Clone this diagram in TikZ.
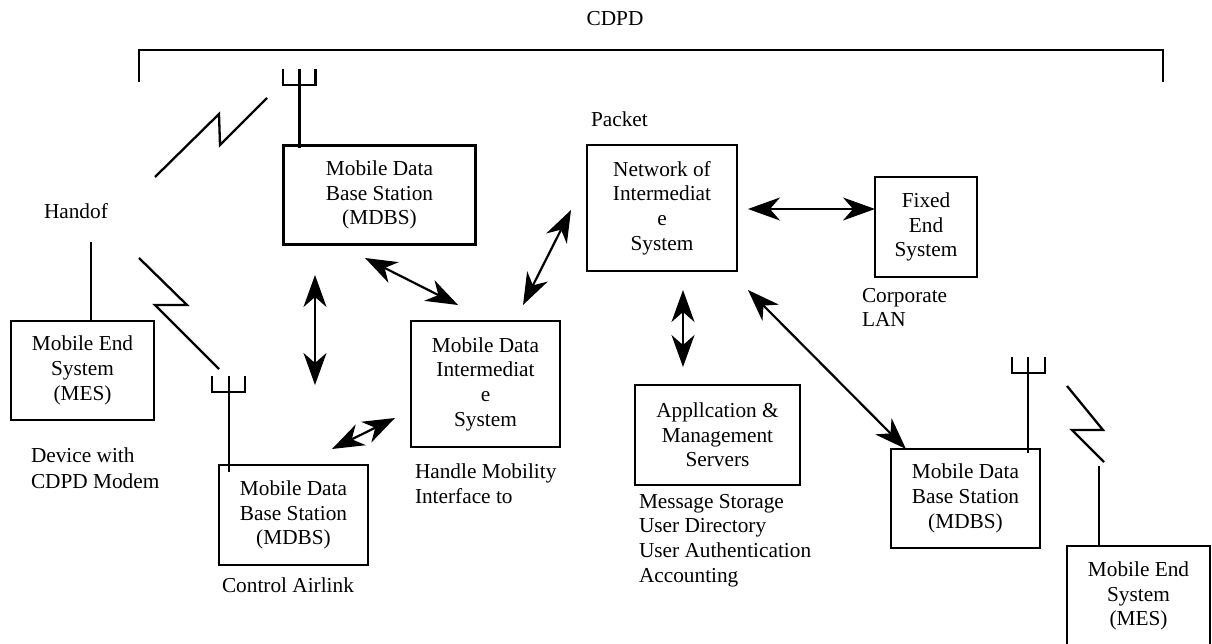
\documentclass[tikz,border=0pt]{standalone}
\usepackage{fontspec}
\setmainfont{Liberation Serif}
\usetikzlibrary{arrows.meta}
\tikzset{
  x=1pt,y=-1pt,
  every node/.style={inner sep=0pt,outer sep=0pt},
  box/.style={draw=black,line width=2.3pt,align=center,font=\fontsize{21.3}{24.7}\selectfont},
  lab/.style={anchor=west,align=left,font=\fontsize{21.3}{24.7}\selectfont},
  wire/.style={draw=black,line width=2.3pt},
  dbl/.style={draw=black,line width=2.2pt,{Stealth[length=32pt,width=23pt,inset=10pt]}-{Stealth[length=32pt,width=23pt,inset=10pt]}},
}
\begin{document}
\begin{tikzpicture}
\useasboundingbox (0,0) rectangle (1212,644);
% boxes
\node[box,minimum width=192pt,minimum height=99pt] (bs1) at (379.5,195) {Mobile Data\\Base Station\\(MDBS)};
\node[box,minimum width=143pt,minimum height=99pt] (mes1) at (82.5,370.5) {Mobile End\\System\\(MES)};
\node[box,minimum width=149pt,minimum height=100pt] (bs2) at (293.5,515) {Mobile Data\\Base Station\\(MDBS)};
\node[box,minimum width=149pt,minimum height=126pt] (mdis) at (485.5,384) {Mobile Data\\Intermediat\hspace*{8pt}\\e\\System};
\node[box,minimum width=150pt,minimum height=126pt] (net) at (662,208) {Network of\\Intermediat\hspace*{10pt}\\e\\System};
\node[box,minimum width=102pt,minimum height=100pt] (fes) at (926,227) {Fixed\\End\\System};
\node[box,minimum width=165pt,minimum height=100pt] (app) at (717.5,435) {Appllcation \&\\Management\\Servers};
\node[box,minimum width=149pt,minimum height=99pt] (bs3) at (965.5,498.5) {Mobile Data\\Base Station\\(MDBS)};
\node[box,minimum width=143pt,minimum height=100pt] (mes2) at (1138.5,596) {Mobile End\\System\\(MES)};
% labels
\node[anchor=center,font=\fontsize{21.3}{24.7}\selectfont] (cdpd) at (615,19) {CDPD};
\node[lab] (packet) at (591,119) {Packet};
\node[lab] (handof) at (44,211) {Handof};
\node[lab] (corp) at (862,307.5) {Corporate\\LAN};
\node[lab] (device) at (31,468) {Device with\\[1.5pt]CDPD Modem};
\node[lab] (ctrl) at (222,585) {Control Airlink};
\node[lab] (handle) at (415,484) {Handle Mobility\\Interface to};
\node[lab] (msg) at (639,540.5) {Message Storage\\User Directory\\User Authentication\\Accounting};
% bracket
\coordinate (brL) at (139,82); \coordinate (brR) at (1163,82);
\draw[wire] (brL) -- (139,50) -- (1163,50) -- (brR);
% antennas
\coordinate (a1) at (299.5,69);
\draw[wire] (a1) -- (299.5,148);
\draw[wire] (283,69) -- (283,85) -- (315.5,85) -- (315.5,69);
\coordinate (a2) at (229,376);
\draw[wire] (a2) -- (229,472);
\draw[wire] (212,376) -- (212,392) -- (245,392) -- (245,376);
\coordinate (a3) at (1028,357);
\draw[wire] (a3) -- (1028,453);
\draw[wire] (1012,357) -- (1012,373) -- (1045,373) -- (1045,357);
% wires to mobile end systems
\coordinate (m1) at (91,242);
\draw[wire] (m1) -- (m1 |- mes1.north);
\coordinate (m2) at (1099,466);
\draw[wire] (m2) -- (m2 |- mes2.north);
% radio links
\coordinate (l1a) at (155,177); \coordinate (l1b) at (267,98);
\draw[wire] (l1a) -- (219,114) -- (220,145) -- (l1b);
\coordinate (l2a) at (139,258); \coordinate (l2b) at (219,369);
\draw[wire] (l2a) -- (187,305) -- (155,305) -- (l2b);
\coordinate (l3a) at (1067,386); \coordinate (l3b) at (1104,462);
\draw[wire] (l3a) -- (1103,430) -- (1072,430) -- (l3b);
% arrows
\coordinate (p1) at (315,275); \coordinate (p2) at (315,385);
\draw[dbl] (p1) -- (p2);
\coordinate (p3) at (365,258); \coordinate (p4) at (458,305);
\draw[dbl] (p3) -- (p4);
\coordinate (p5) at (523,305); \coordinate (p6) at (571,210);
\draw[dbl] (p5) -- (p6);
\coordinate (p7) at (332,449); \coordinate (p8) at (395,418);
\draw[dbl] (p7) -- (p8);
\coordinate (p9) at (748,209); \coordinate (p10) at (875,209);
\draw[dbl] (p9) -- (p10);
\coordinate (p11) at (683,290); \coordinate (p12) at (683,367);
\draw[dbl] (p11) -- (p12);
\coordinate (p13) at (748,290); \coordinate (p14) at (906,449);
\draw[dbl] (p13) -- (p14);
\end{tikzpicture}
\end{document}
